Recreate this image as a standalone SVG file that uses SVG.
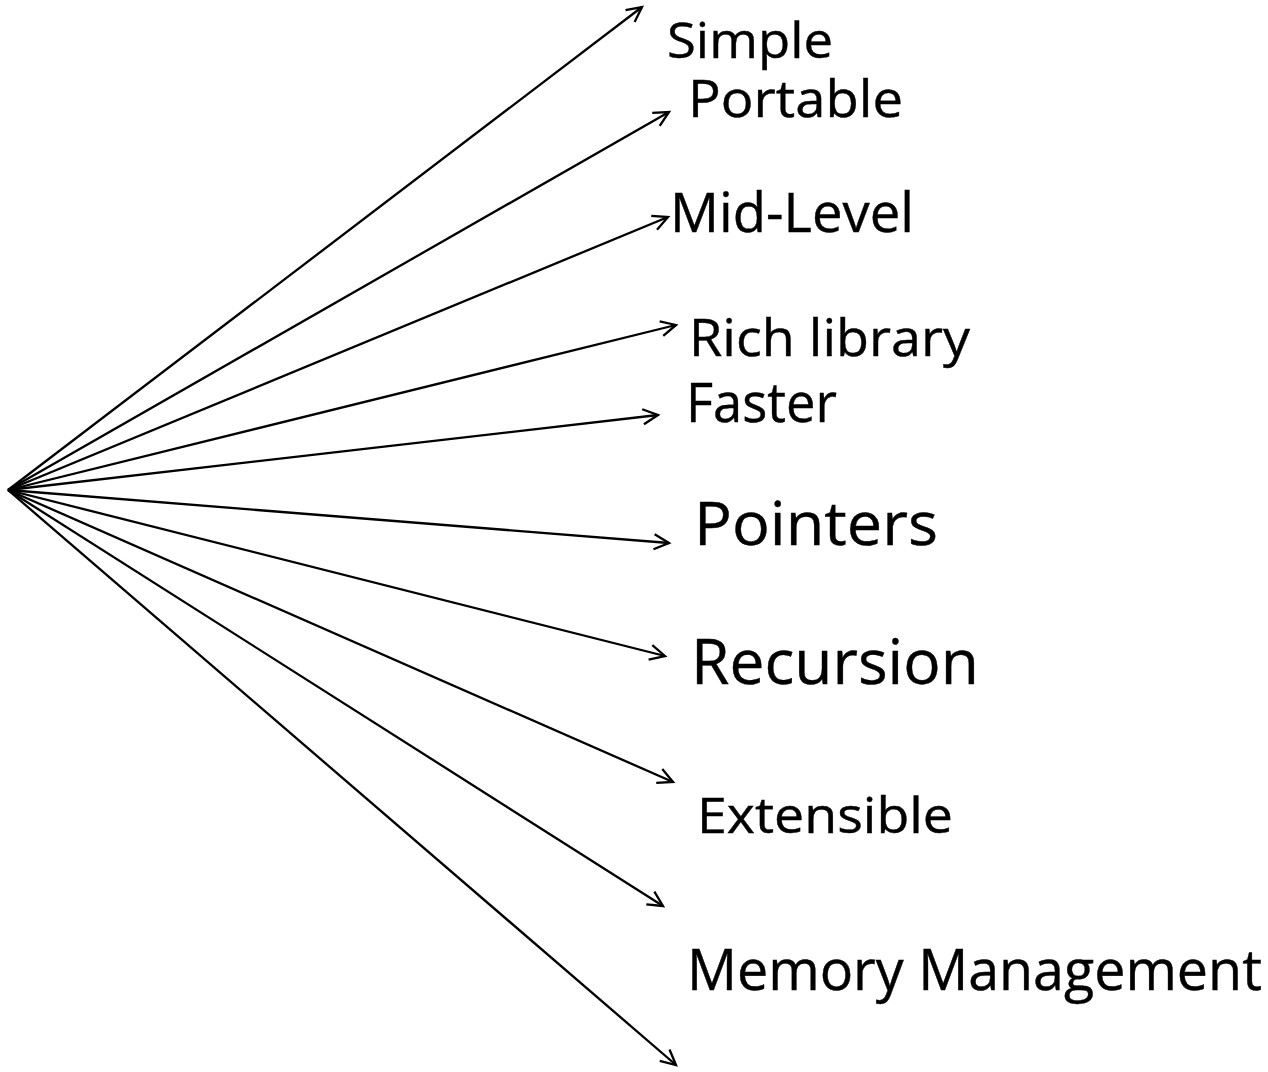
<svg xmlns="http://www.w3.org/2000/svg" width="1268" height="1072" viewBox="0 0 1268 1072">
  <style>
    .c line { stroke: #000; stroke-width: 2.3; fill: none; marker-end: url(#arr); }
    text { font-family: "Open Sans", "Noto Sans", sans-serif; fill: #000; stroke: #000; stroke-width: 0.4; }
  </style>
  <defs>
    <marker id="arr" viewBox="-17 -10 20 20" markerWidth="20" markerHeight="20" refX="0" refY="0" orient="auto" markerUnits="userSpaceOnUse">
      <path d="M-15,-7.5 L0,0 L-15,7.5" fill="none" stroke="#000" stroke-width="2.3"/>
    </marker>
  </defs>
  <rect width="1268" height="1072" fill="#fff"/>
  <g id="connectors" class="c">
    <line x1="8" y1="490" x2="642" y2="7"/>
    <line x1="8" y1="490" x2="669" y2="112"/>
    <line x1="8" y1="490" x2="668" y2="217"/>
    <line x1="8" y1="490" x2="676" y2="325"/>
    <line x1="8" y1="490" x2="658" y2="415"/>
    <line x1="8" y1="490" x2="669" y2="543"/>
    <line x1="8" y1="490" x2="665" y2="656"/>
    <line x1="8" y1="490" x2="673" y2="782"/>
    <line x1="8" y1="490" x2="663" y2="906"/>
    <line x1="8" y1="490" x2="676" y2="1065"/>
  </g>
  <g id="node-simple"><text x="667" y="58" font-size="50" textLength="166" lengthAdjust="spacingAndGlyphs">Simple</text></g>
  <g id="node-portable"><text x="688" y="117" font-size="52" textLength="215" lengthAdjust="spacingAndGlyphs">Portable</text></g>
  <g id="node-midlevel"><text x="670" y="232" font-size="54" textLength="244" lengthAdjust="spacingAndGlyphs">Mid-Level</text></g>
  <g id="node-richlibrary"><text x="689" y="356" font-size="52" textLength="281" lengthAdjust="spacingAndGlyphs">Rich library</text></g>
  <g id="node-faster"><text x="686" y="422" font-size="54" textLength="151" lengthAdjust="spacingAndGlyphs">Faster</text></g>
  <g id="node-pointers"><text x="694" y="545" font-size="60" textLength="244" lengthAdjust="spacingAndGlyphs">Pointers</text></g>
  <g id="node-recursion"><text x="691" y="684" font-size="63" textLength="288" lengthAdjust="spacingAndGlyphs">Recursion</text></g>
  <g id="node-extensible"><text x="697" y="833" font-size="50" textLength="256" lengthAdjust="spacingAndGlyphs">Extensible</text></g>
  <g id="node-memory"><text x="687" y="990" font-size="56" textLength="575" lengthAdjust="spacingAndGlyphs">Memory Management</text></g>
</svg>
